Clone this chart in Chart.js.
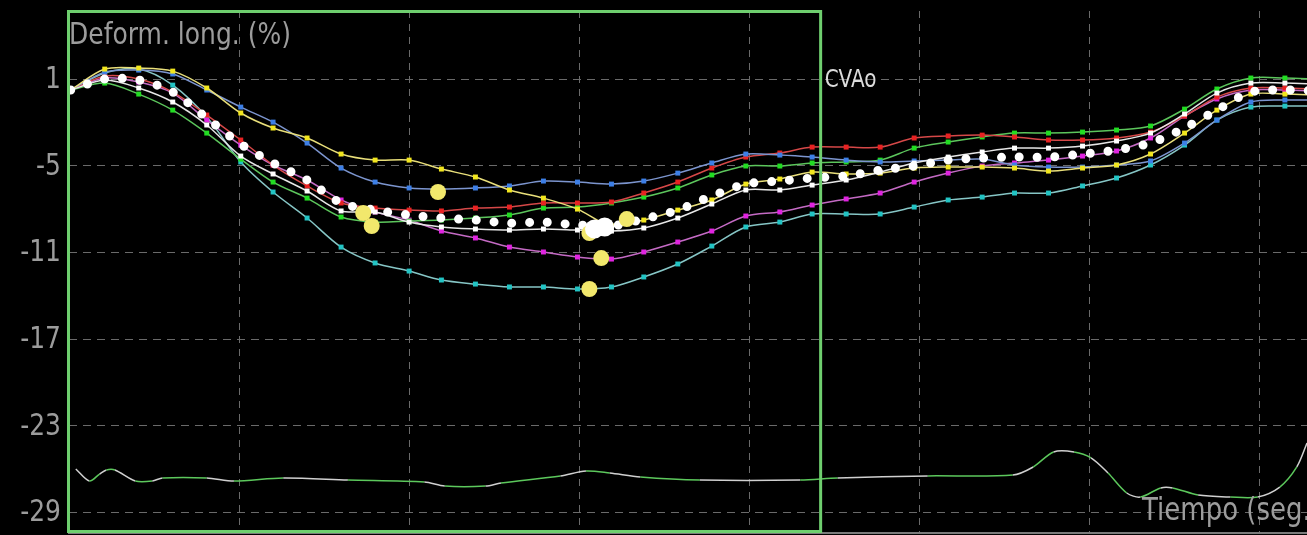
<!DOCTYPE html>
<html>
<head>
<meta charset="utf-8">
<script src="https://cdn.jsdelivr.net/npm/chart.js@4.4.0/dist/chart.umd.min.js"></script>
<style>
  html, body { margin: 0; padding: 0; background: #000; }
  #contenedor { width: 1307px; height: 535px; position: relative; }
</style>
</head>
<body>
<div id="contenedor"><canvas id="grafica"></canvas></div>
<script>
/* ******* Datos ******** */
// tiempo de cada fotograma (ms)
const tiempos = [1, 21, 41, 61, 81, 101, 120, 140, 160, 180, 200, 219, 239, 259, 279, 299, 319, 338, 358,
                 378, 398, 418, 437, 457, 477, 497, 517, 537, 556, 576, 596, 616, 636, 656, 675, 695, 715, 735];

// deformacion longitudinal (%) por segmento
const segAmarillo = [0.24, 1.69, 1.76, 1.55, 0.38, -1.35, -2.39, -3.08, -4.19, -4.61, -4.61, -5.23, -5.78, -6.68, -7.24, -8.00, -9.17, -8.76, -8.07,
                     -7.37, -6.27, -5.92, -5.44, -5.57, -5.51, -5.16, -5.09, -5.09, -5.16, -5.37, -5.16, -4.95, -4.19, -2.74, -1.15, -0.04, -0.04, -0.11];
const segAzul = [0.24, 1.48, 1.62, 1.35, 0.24, -0.94, -1.98, -3.43, -5.16, -6.13, -6.54, -6.61, -6.54, -6.40, -6.06, -6.13, -6.27, -6.06, -5.51,
                 -4.81, -4.19, -4.26, -4.40, -4.61, -4.74, -4.67, -4.61, -4.54, -4.95, -5.09, -5.09, -4.95, -4.67, -3.43, -1.84, -0.59, -0.45, -0.45];
const segCian = [0.24, 1.42, 1.69, 0.58, -1.63, -4.74, -6.82, -8.62, -10.63, -11.73, -12.29, -12.91, -13.19, -13.39, -13.39, -13.53, -13.39, -12.70, -11.80,
                 -10.56, -9.24, -8.90, -8.34, -8.34, -8.34, -7.86, -7.37, -7.17, -6.89, -6.89, -6.40, -5.85, -4.95, -3.57, -1.84, -0.94, -0.87, -0.87];
const segVerde = [0.24, 0.72, -0.04, -1.15, -2.74, -4.54, -6.13, -7.24, -8.55, -8.90, -8.83, -8.76, -8.62, -8.41, -7.93, -7.86, -7.58, -7.17, -6.54,
                  -5.64, -5.02, -5.02, -4.81, -4.74, -4.61, -3.78, -3.36, -3.01, -2.74, -2.74, -2.67, -2.53, -2.25, -1.08, 0.31, 1.07, 1.07, 1.00];
const segRojo = [0.24, 1.21, 1.00, 0.10, -1.49, -3.22, -4.95, -6.40, -7.58, -7.93, -8.07, -8.13, -7.93, -7.86, -7.58, -7.58, -7.51, -6.89, -6.13,
                 -5.16, -4.40, -4.12, -3.71, -3.71, -3.71, -3.08, -2.94, -2.88, -3.01, -3.22, -3.22, -3.08, -2.67, -1.56, -0.25, 0.38, 0.38, 0.31];
const segMagenta = [0.24, 1.07, 0.79, 0.03, -1.84, -3.57, -4.95, -5.99, -7.37, -8.20, -8.76, -9.52, -10.00, -10.63, -10.97, -11.32, -11.46, -10.97, -10.28,
                    -9.52, -8.48, -8.20, -7.72, -7.30, -6.89, -6.13, -5.51, -5.02, -4.81, -4.61, -4.33, -3.98, -3.08, -1.56, -0.38, 0.24, 0.24, 0.17];
const segBlanco = [0.24, 0.93, 0.38, -0.59, -2.18, -4.33, -5.57, -6.75, -8.13, -8.20, -8.90, -9.24, -9.38, -9.45, -9.38, -9.45, -9.52, -9.31, -8.62,
                   -7.65, -6.68, -6.68, -6.34, -5.99, -5.44, -4.81, -4.40, -4.05, -3.78, -3.78, -3.64, -3.29, -2.74, -1.42, 0.03, 0.72, 0.72, 0.65];
const promedio = [0.24, 1.00, 0.93, 0.10, -1.70, -3.50, -4.81, -5.99, -7.58, -8.07, -8.41, -8.62, -8.76, -8.97, -8.90, -9.10, -9.17, -8.69, -8.07,
                  -7.10, -6.27, -6.06, -5.85, -5.71, -5.30, -5.02, -4.61, -4.47, -4.40, -4.40, -4.19, -3.91, -3.43, -2.39, -1.15, 0.10, 0.24, 0.17];

// picos marcados (circulos grandes)
const picosT = [217, 173, 178, 306, 313, 328, 306];
const picosV = [-6.82, -8.27, -9.17, -13.53, -11.39, -8.69, -9.66];
const picoPromT = [309, 315];
const picoPromV = [-9.38, -9.24];

// trazado de ECG
const ecgT = [4, 12, 18, 22, 27, 39, 49, 55, 81, 97, 126, 164, 209, 221, 245, 254, 289, 304, 318, 336, 371,
              430, 452, 505, 555, 567, 579, 591, 601, 611, 622, 630, 642, 649, 664, 683, 699, 712, 722, 728, 731];
const ecgV = [-25.99, -26.82, -26.34, -26.06, -26.06, -26.82, -26.82, -26.61, -26.61, -26.82, -26.61, -26.75, -26.89, -27.17, -27.17, -26.96, -26.47,
              -26.13, -26.27, -26.54, -26.75, -26.75, -26.61, -26.47, -26.41, -25.85, -24.81, -24.81, -25.22, -26.27, -27.65, -27.93, -27.30, -27.30,
              -27.79, -27.93, -27.93, -27.24, -25.85, -24.19, -23.3];

const tiempoCVAo = 442;
const marcasY = [1, -5, -11, -17, -23, -29];
const marcasX = [0, 100, 200, 300, 400, 500, 600, 700];


/* ** Utilidades ** */
function puntos(xs, ys) {
	return xs.map((x, i) => ({ x: x, y: ys[i] }));
}

function segmento(nombre, valores, colorLinea, colorPunto, orden) {
	return {
		label: nombre,
		data: puntos(tiempos, valores),
		borderColor: colorLinea,
		borderWidth: 1.5,
		pointStyle: 'rect',
		pointRadius: 3.5,
		pointBackgroundColor: colorPunto,
		pointBorderWidth: 0,
		tension: 0.3,
		order: orden
	};
}

// texto estirado en vertical como en la captura original
function texto(ctx, cadena, x, y, tam, color, alineado) {
	ctx.save();
	ctx.font = tam + 'px "DejaVu Sans", sans-serif';
	ctx.fillStyle = color;
	ctx.textAlign = alineado;
	ctx.textBaseline = 'alphabetic';
	ctx.translate(x, y);
	ctx.scale(1, 1.2);
	ctx.fillText(cadena, 0, 0);
	ctx.restore();
}

/* ** Plugin de decoracion: fondo, recuadro verde, textos ** */
const decoracion = {
	id: 'decoracion',
	beforeDraw(chart) {
		const c = chart.ctx;
		c.save();
		c.fillStyle = '#000';
		c.fillRect(0, 0, chart.width, chart.height);
		c.restore();
	},
	afterDatasetsDraw(chart) {
		const { ctx, chartArea, scales } = chart;
		const xCv = scales.x.getPixelForValue(tiempoCVAo);

		ctx.save();
		ctx.strokeStyle = '#6fcf6f';
		ctx.lineWidth = 3;
		ctx.strokeRect(chartArea.left - 0.5, chartArea.top + 0.5, xCv - chartArea.left + 0.5, chartArea.bottom - chartArea.top - 2);
		ctx.restore();

		// etiquetas del eje Y
		marcasY.forEach(v => {
			const y = scales.y.getPixelForValue(v);
			texto(ctx, String(v), 61, y + 9, 25, '#9c9c9c', 'right');
		});

		texto(ctx, 'Deform. long. (%)', 69, 44, 25, '#9c9c9c', 'left');
		texto(ctx, 'CVAo', xCv + 4, 87, 20, '#dcdcdc', 'left');
		texto(ctx, 'Tiempo (seg.)', 1142, 520, 26, '#9c9c9c', 'left');
	}
};

/* ** Definicion de la grafica ** */
const datos = {
	datasets: [
		{
			label: 'Pico promedio',
			type: 'scatter',
			data: puntos(picoPromT, picoPromV),
			pointRadius: 9.5,
			pointBackgroundColor: '#ffffff',
			pointBorderWidth: 0,
			order: 0
		},
		{
			label: 'Picos',
			type: 'scatter',
			data: puntos(picosT, picosV),
			pointRadius: 8,
			pointBackgroundColor: '#f2e86c',
			pointBorderWidth: 0,
			order: 1
		},
		{
			label: 'Promedio',
			data: puntos(tiempos, promedio),
			borderColor: '#ffffff',
			borderWidth: 9,
			borderDash: [0, 17.8],
			borderCapStyle: 'round',
			pointRadius: 0,
			tension: 0.3,
			order: 2
		},
		segmento('Blanco', segBlanco, '#e6e6e6', '#ffffff', 3),
		segmento('Amarillo', segAmarillo, '#e9df7a', '#f2e61e', 4),
		segmento('Azul', segAzul, '#7c95cf', '#3d7fe6', 5),
		segmento('Rojo', segRojo, '#d64848', '#e82222', 6),
		segmento('Verde', segVerde, '#5cc65c', '#22dd22', 7),
		segmento('Magenta', segMagenta, '#c46ac4', '#e024e0', 8),
		segmento('Cian', segCian, '#86c6c6', '#22c4c4', 9),
		{
			label: 'ECG',
			data: puntos(ecgT, ecgV),
			borderColor: '#d0d0d0',
			borderWidth: 1.5,
			pointRadius: 0,
			tension: 0.3,
			segment: {
				borderColor: c => (c.p0DataIndex % 2 ? '#5cc85c' : '#d0d0d0')
			},
			order: 10
		}
	]
};

const config = {
	type: 'line',
	data: datos,
	options: {
		responsive: true,
		maintainAspectRatio: false,
		devicePixelRatio: 1,
		animation: false,
		layout: { autoPadding: false, padding: { top: 11, left: 0, right: 0, bottom: 0 } },
		plugins: {
			legend: { display: false },
			tooltip: { enabled: false }
		},
		scales: {
			x: {
				type: 'linear',
				min: 0,
				max: 728,
				afterBuildTicks(scale) { scale.ticks = marcasX.map(v => ({ value: v })); },
				ticks: { display: false },
				grid: { color: '#6a6a6a', lineWidth: 1, drawTicks: false },
				border: { display: true, color: '#7a7a7a', width: 2, dash: [7, 6] },
				afterFit(scale) { scale.height = 2; scale.paddingLeft = 0; scale.paddingRight = 0; }
			},
			y: {
				min: -30.42,
				max: 5.71,
				afterBuildTicks(scale) { scale.ticks = marcasY.map(v => ({ value: v })); },
				ticks: { display: false },
				grid: { color: '#6a6a6a', lineWidth: 1, drawTicks: false },
				border: { display: false, dash: [8, 6] },
				afterFit(scale) { scale.width = 69; scale.paddingTop = 0; scale.paddingBottom = 0; }
			}
		}
	},
	plugins: [decoracion]
};

const grafica = new Chart(document.getElementById('grafica'), config);
</script>
</body>
</html>
